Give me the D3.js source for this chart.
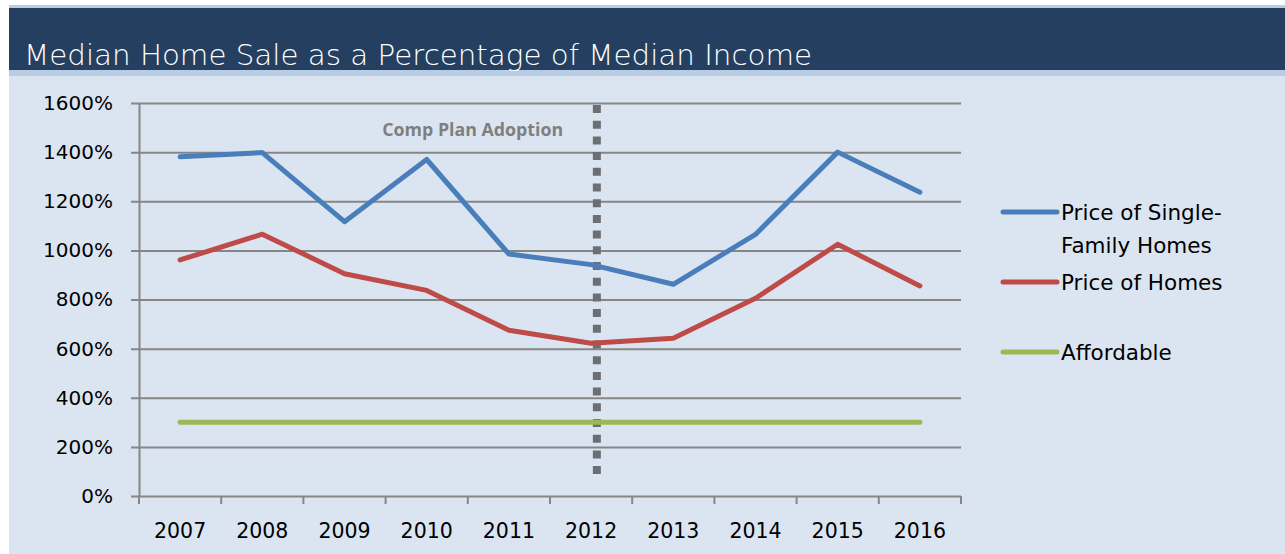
<!DOCTYPE html>
<html><head><meta charset="utf-8">
<script src="https://cdn.jsdelivr.net/npm/d3@7"></script>
<style>html,body{margin:0;padding:0;background:#fff;}svg{display:block;}</style>
</head><body>
<script>
const years = [2007,2008,2009,2010,2011,2012,2013,2014,2015,2016];
const singleFamily = [1381,1398,1117,1370,985,942,862,1065,1400,1237];
const allHomes = [961,1066,905,837,675,622,642,805,1025,855];
const affordable = [300,300,300,300,300,300,300,300,300,300];
const yTicks = [0,200,400,600,800,1000,1200,1400,1600];
const adoptionYear = 2012.07;
const title = "Median Home Sale as a Percentage of Median Income";
const annotation = "Comp Plan Adoption";
const legendNames = [["Price of Single-","Family Homes"],["Price of Homes"],["Affordable"]];
const colors = ["#4a7ebb","#be4b48","#98b954"];

(function(){
const W=1285,H=554;
const svg=d3.select("body").append("svg").attr("width",W).attr("height",H);
svg.append("rect").attr("x",9).attr("y",5).attr("width",W-9).attr("height",H-5).attr("fill","#dbe5f1");
svg.append("rect").attr("x",9).attr("y",5).attr("width",W-9).attr("height",71).attr("fill","#b8cce4");
svg.append("rect").attr("x",9).attr("y",8).attr("width",W-9).attr("height",62).attr("fill","#243f60");
svg.append("text").attr("x",24).attr("y",65).attr("fill","#fff")
  .style("font-family","'DejaVu Sans'").style("font-weight",200).style("font-size","29px")
  .attr("textLength",788).attr("lengthAdjust","spacingAndGlyphs").text(title);

const pl=139,pr=961,pt=103,pb=496;
const x=d3.scaleLinear().domain([2006.5,2016.5]).range([pl,pr]);
const y=d3.scaleLinear().domain([0,1600]).range([pb,pt]);
const font="'DejaVu Sans', 'Liberation Sans', sans-serif";

const gy=svg.append("g").attr("transform",`translate(${pl},0)`)
  .call(d3.axisLeft(y).tickValues(yTicks).tickSize(-(pr-pl)).tickSizeOuter(0).tickPadding(18).tickFormat(d=>d+"%"));
gy.select(".domain").attr("stroke","#868686").attr("stroke-width",2);
gy.selectAll(".tick line").attr("stroke","#868686").attr("stroke-width",2).attr("x1",-8);
gy.selectAll(".tick text").attr("fill","#000").style("font-family",font).style("font-size","20px").attr("x",-26);

const bounds=d3.range(2006.5,2017,1);
const gx=svg.append("g").attr("transform",`translate(0,${pb})`);
gx.selectAll("line").data(bounds).join("line").attr("x1",d=>x(d)).attr("x2",d=>x(d)).attr("y1",0).attr("y2",8)
  .attr("stroke","#868686").attr("stroke-width",2);
gx.selectAll("text").data(years).join("text").attr("x",d=>x(d)).attr("y",42).attr("text-anchor","middle")
  .style("font-family",font).style("font-size","20.5px").attr("fill","#000").text(d=>d);

svg.append("line").attr("x1",x(adoptionYear)).attr("x2",x(adoptionYear)).attr("y1",y(1600)+2).attr("y2",y(60))
  .attr("stroke","#6d6e71").attr("stroke-width",8).attr("stroke-dasharray","8,7.7");
svg.append("text").attr("x",x(2010.56)).attr("y",y(1466)).attr("text-anchor","middle")
  .style("font-family","'Open Sans', sans-serif").style("font-weight",700).style("font-size","17.8px").attr("fill","#7f7f7f").text(annotation);

const line=d3.line().x((d,i)=>x(years[i])).y(d=>y(d));
[singleFamily,allHomes,affordable].forEach((s,k)=>{
  svg.append("path").datum(s).attr("d",line).attr("fill","none").attr("stroke",colors[k])
    .attr("stroke-width",5).attr("stroke-linecap","round").attr("stroke-linejoin","round");
});

const legY=[212,282,352];
legendNames.forEach((names,k)=>{
  svg.append("line").attr("x1",1003).attr("x2",1057).attr("y1",legY[k]).attr("y2",legY[k])
    .attr("stroke",colors[k]).attr("stroke-width",5).attr("stroke-linecap","round");
  names.forEach((n,j)=>{
    svg.append("text").attr("x",1061).attr("y",legY[k]+8+j*33).style("font-family",font).style("font-size","21.5px")
      .attr("fill","#000").text(n);
  });
});
})();
</script>
</body></html>
